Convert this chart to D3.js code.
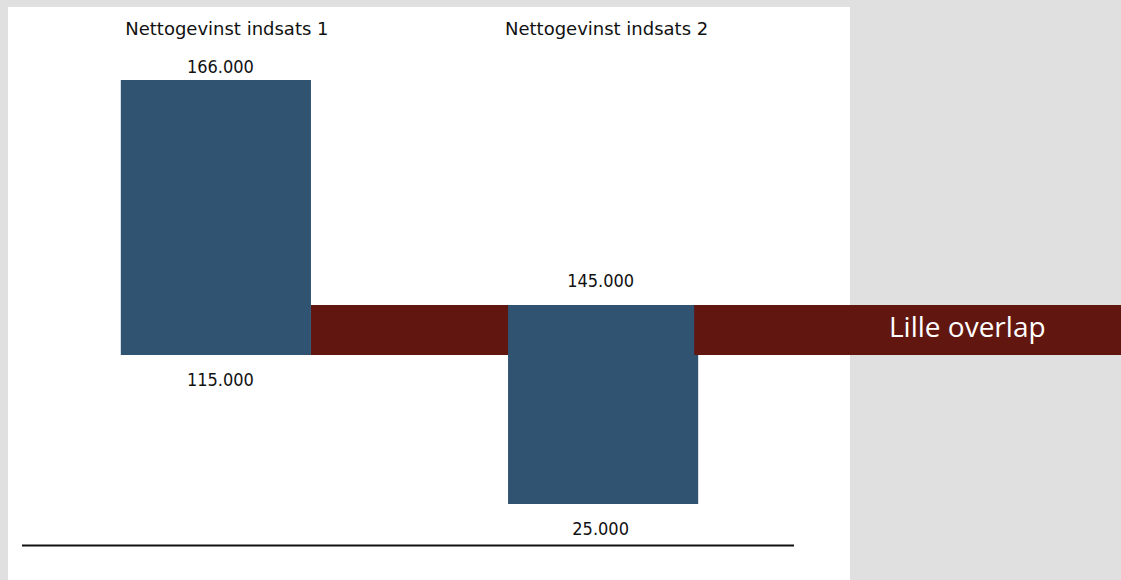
<!DOCTYPE html>
<html>
<head>
<meta charset="utf-8">
<script src="https://cdn.jsdelivr.net/npm/d3@7"></script>
<style>
  html, body { margin: 0; padding: 0; background: #e0e0e0; }
  svg { display: block; }
</style>
</head>
<body>
<script>
// ---- data ----
const categories = ["Nettogevinst indsats 1", "Nettogevinst indsats 2"];
const highValues = [166, 145];
const lowValues = [115, 25];
const highLabels = ["166.000", "145.000"];
const lowLabels = ["115.000", "25.000"];
const overlapRange = [115, 145];
const overlapLabel = "Lille overlap";

// ---- layout ----
const W = 1121, H = 580;
const svg = d3.select("body").append("svg").attr("width", W).attr("height", H);

svg.append("rect").attr("x", 0).attr("y", 0).attr("width", W).attr("height", H).attr("fill", "#e0e0e0");
svg.append("rect").attr("x", 8).attr("y", 7).attr("width", 842).attr("height", H - 7).attr("fill", "#ffffff");

const x = d3.scaleBand().domain(categories).range([24, 795]).paddingInner(0.509).paddingOuter(0.25);
// piecewise (non-proportional) value scale as drawn in the original
const y = d3.scaleLinear().domain([25, 115, 145, 166]).range([504, 355, 305, 80]);

const barColor = "#2f5370";
const bandColor = "#621610";
const textColor = "#111111";
const numFont = "'DejaVu Sans Condensed', 'DejaVu Sans', sans-serif";
const titleFont = "'DejaVu Sans', sans-serif";

// overlap band
svg.append("rect")
  .attr("x", x(categories[0]) + x.bandwidth())
  .attr("y", y(overlapRange[1]))
  .attr("width", W - (x(categories[0]) + x.bandwidth()))
  .attr("height", y(overlapRange[0]) - y(overlapRange[1]))
  .attr("fill", bandColor);

// bars
svg.selectAll("rect.bar").data(categories).enter().append("rect")
  .attr("class", "bar")
  .attr("x", d => x(d))
  .attr("y", (d, i) => y(highValues[i]))
  .attr("width", x.bandwidth())
  .attr("height", (d, i) => y(lowValues[i]) - y(highValues[i]))
  .attr("fill", barColor);

// label box over band right part
const boxX = x(categories[1]) + x.bandwidth() - 4;
svg.append("rect")
  .attr("x", boxX)
  .attr("y", y(overlapRange[1]))
  .attr("width", W - boxX)
  .attr("height", y(overlapRange[0]) - y(overlapRange[1]))
  .attr("fill", bandColor);

svg.append("text")
  .attr("x", 889)
  .attr("y", (y(overlapRange[0]) + y(overlapRange[1])) / 2 + 7)
  .attr("font-family", "'Open Sans', sans-serif")
  .attr("font-size", 28)
  .attr("fill", "#ffffff")
  .text(overlapLabel);

// titles
const titleDx = [11, 3.5];
svg.selectAll("text.title").data(categories).enter().append("text")
  .attr("class", "title")
  .attr("x", (d, i) => x(d) + x.bandwidth() / 2 + titleDx[i])
  .attr("y", 35)
  .attr("text-anchor", "middle")
  .attr("font-family", titleFont)
  .attr("font-size", 18)
  .attr("fill", textColor)
  .text(d => d);

// value labels
const topGap = [7.3, 18.3];
const labelDx = [4.5, -2.5];
svg.selectAll("text.hi").data(categories).enter().append("text")
  .attr("class", "hi")
  .attr("x", (d, i) => x(d) + x.bandwidth() / 2 + labelDx[i])
  .attr("y", (d, i) => y(highValues[i]) - topGap[i])
  .attr("text-anchor", "middle")
  .attr("font-family", numFont)
  .attr("font-size", 18)
  .attr("fill", textColor)
  .text((d, i) => highLabels[i]);

svg.selectAll("text.lo").data(categories).enter().append("text")
  .attr("class", "lo")
  .attr("x", (d, i) => x(d) + x.bandwidth() / 2 + labelDx[i])
  .attr("y", (d, i) => y(lowValues[i]) + 31)
  .attr("text-anchor", "middle")
  .attr("font-family", numFont)
  .attr("font-size", 18)
  .attr("fill", textColor)
  .text((d, i) => lowLabels[i]);

// baseline
svg.append("line")
  .attr("x1", 22).attr("x2", 794)
  .attr("y1", 545.5).attr("y2", 545.5)
  .attr("stroke", textColor)
  .attr("stroke-width", 2);
</script>
</body>
</html>
